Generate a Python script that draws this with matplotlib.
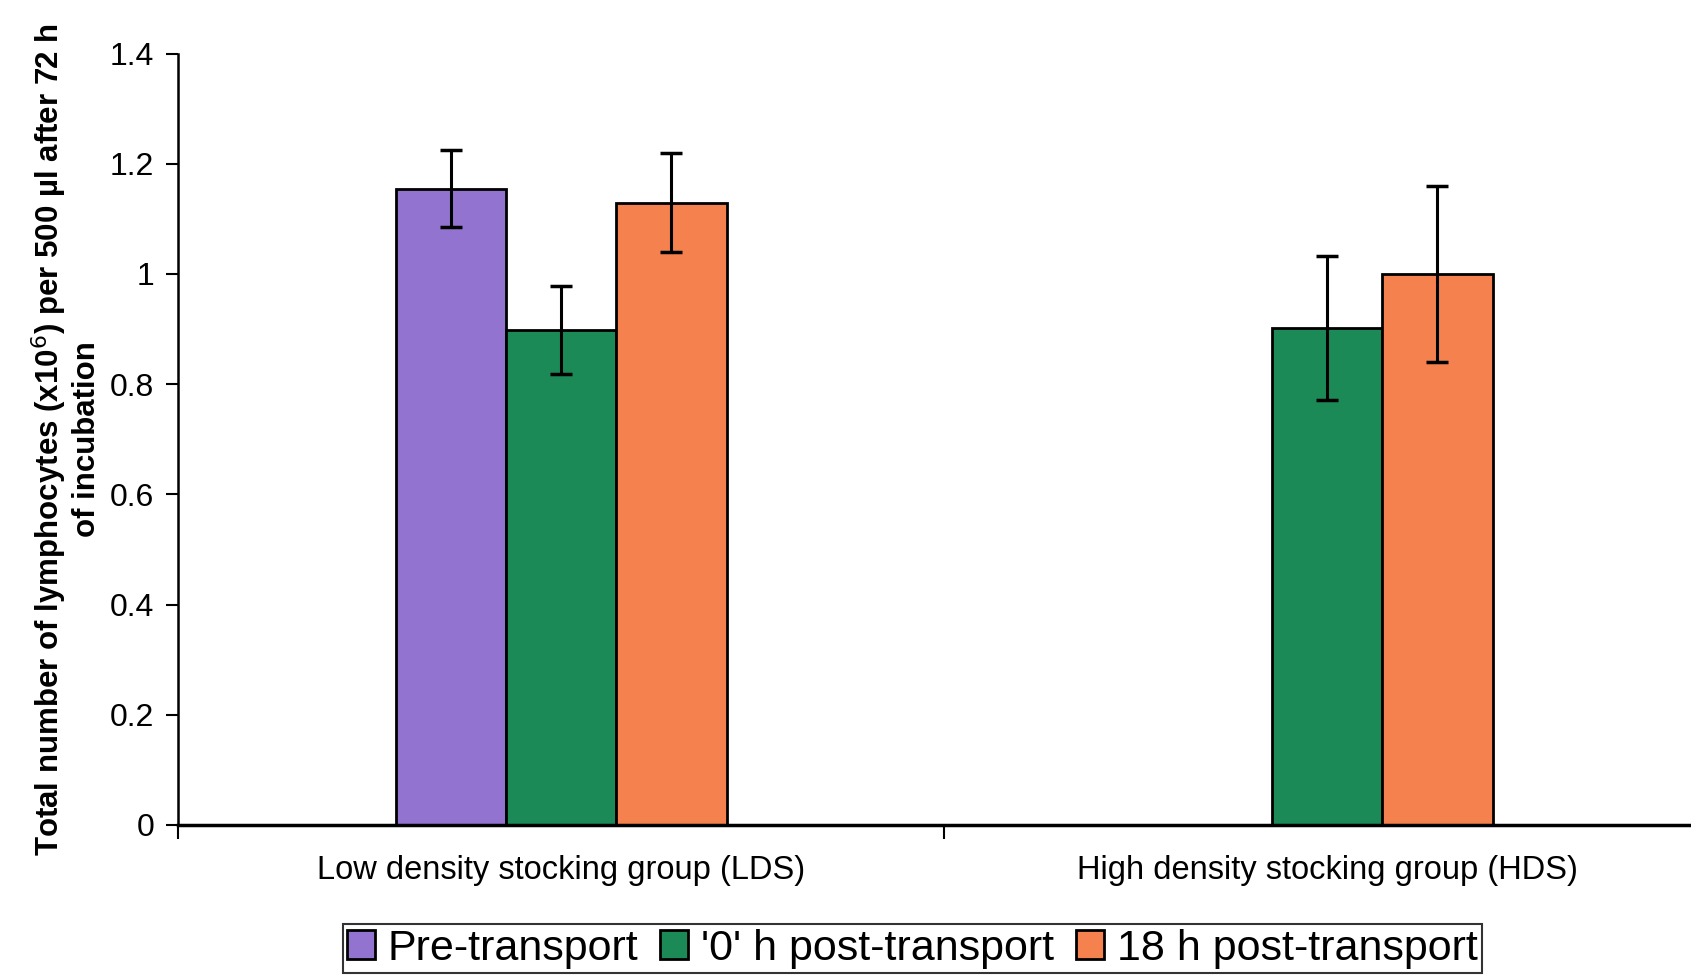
import numpy as np
import matplotlib.pyplot as plt

plt.rcParams['font.family'] = ['Liberation Sans', 'DejaVu Sans']

groups = ['Low density stocking group (LDS)', 'High density stocking group (HDS)']
series = ['Pre-transport', "'0' h post-transport", '18 h post-transport']
colors = ['#9274d0', '#1b8a56', '#f5814e']

# means and error (SE) per series, one value per group
pre = [1.155, np.nan]
pre_err = [0.07, np.nan]
h0 = [0.898, 0.902]
h0_err = [0.08, 0.13]
h18 = [1.129, 1.0]
h18_err = [0.09, 0.16]

values = [pre, h0, h18]
errors = [pre_err, h0_err, h18_err]

fig = plt.figure(figsize=(16.91, 9.75), dpi=100)
ax = fig.add_axes([0.1053, 0.154, 0.906, 0.791])

x = np.arange(len(groups))
w = 0.144
for i in range(3):
    ax.bar(x + (i - 1) * w, values[i], w, yerr=errors[i], color=colors[i],
           edgecolor='black', linewidth=2, label=series[i],
           error_kw=dict(ecolor='black', elinewidth=2.2, capsize=8, capthick=2.5))

ax.set_xlim(-0.5, 1.5)
ax.set_ylim(0, 1.4)
ax.set_yticks([0, 0.2, 0.4, 0.6, 0.8, 1.0, 1.2, 1.4])
ax.set_yticklabels(['0', '0.2', '0.4', '0.6', '0.8', '1', '1.2', '1.4'])
ax.tick_params(axis='y', labelsize=23, length=9, width=1.5, pad=8)

ax.set_xticks([-0.5, 0.5, 1.5])
ax.set_xticklabels([])
ax.tick_params(axis='x', which='major', length=10, width=1.5)
ax.set_xticks(x, minor=True)
ax.set_xticklabels(groups, minor=True)
ax.tick_params(axis='x', which='minor', length=0, labelsize=23.5, pad=22)

for s in ['top', 'right']:
    ax.spines[s].set_visible(False)
ax.spines['left'].set_linewidth(1.8)
ax.spines['bottom'].set_linewidth(2.5)

ax.set_ylabel('Total number of lymphocytes (x10$^{6}$) per 500 µl after 72 h\nof incubation',
              fontsize=22.5, fontweight='bold', labelpad=6, linespacing=1.1)

leg = fig.legend(loc='lower center', bbox_to_anchor=(0.5395, 0.0), ncol=3,
                 fontsize=31, frameon=True, fancybox=False, edgecolor='black',
                 handlelength=0.65, handleheight=0.65, handletextpad=0.3,
                 columnspacing=0.5, borderpad=0.1, borderaxespad=0.05)
leg.get_frame().set_linewidth(1.5)

plt.savefig('out.png')
